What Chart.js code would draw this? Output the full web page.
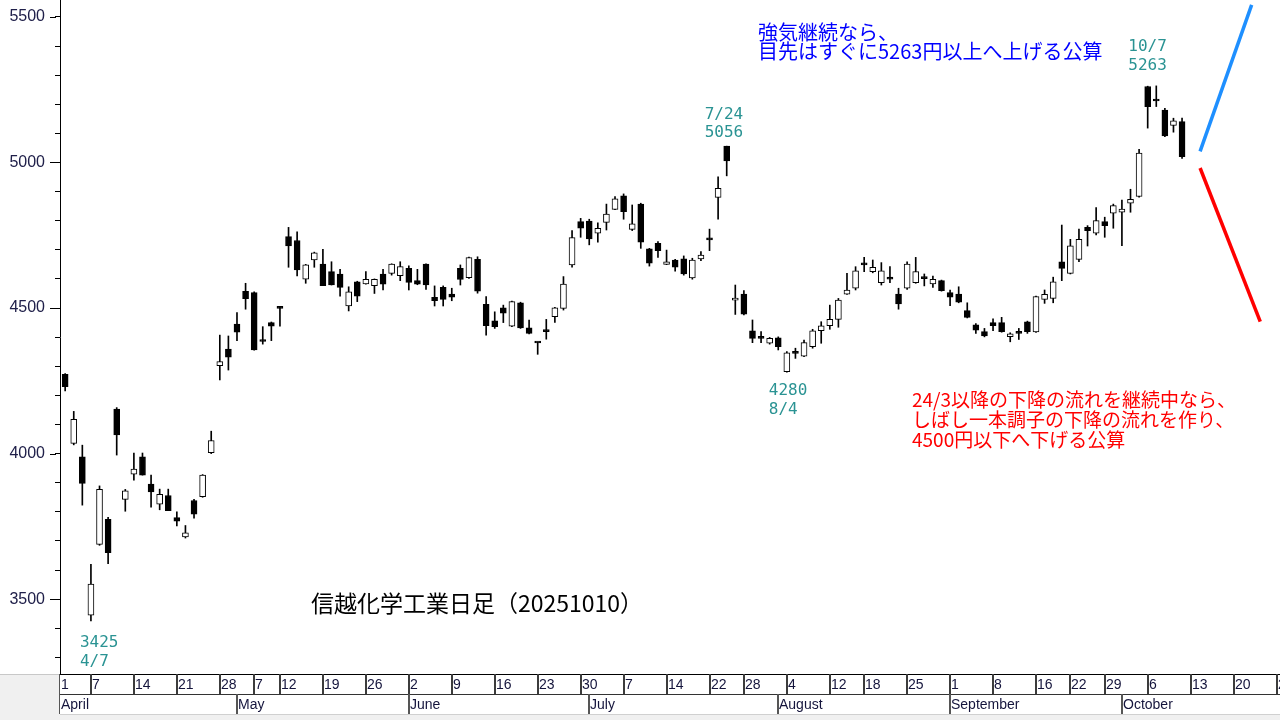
<!DOCTYPE html>
<html>
<head>
<meta charset="utf-8">
<script src="https://cdn.jsdelivr.net/npm/chart.js@4.4.1/dist/chart.umd.min.js"></script>
<style>
html, body { margin: 0; padding: 0; background: #fff; }
canvas { display: block; }
</style>
</head>
<body>
<canvas id="chart" width="1280" height="720"></canvas>
<script>
// trading day index: 0 = 4/1 (under the axis), 131 = 10/10, later ones are future weekdays
const firstIdx = 1

const open = [4272,4035,3989,3445,3688,3774,4153,3843,3929,3989,3895,3826,3856,3780,3714,3839,3852,4003,
  4302,4359,4445,4557,4553,4391,4450,4502,
  4745,4732,4599,4665,4651,4625,4617,4507,4590,4583,
  4577,4617,4619,4611,4636,4594,4651,4537,4571,4548,
  4636,4604,4667,4513,4456,4501,4438,4518,4432,4383,
  4419,4470,4499,4648,4797,4799,4757,4794,4839,4885,
  4770,4857,4703,4722,4650,4665,4669,4603,4669,4734,4880,5056,
  4527,4548,4422,4396,4379,4398,4281,4344,4335,4367,4422,4439,
  4461,4548,4568,4648,4625,4587,4606,4548,4568,4587,
  4601,4583,4594,4553,4548,4491,4442,4419,4450,4450,
  4402,4413,4453,4418,4530,4533,4659,4619,4667,4777,
  4757,4797,4826,4829,4860,4883,5261,5211,5180,5127,5140]
const high = [4275,4145,4029,3620,3889,3781,4158,3877,4002,4002,3926,3878,3878,3800,3753,3843,3928,4077,
  4407,4404,4484,4585,4556,4436,4452,4503,
  4777,4762,4650,4692,4702,4659,4633,4573,4592,4625,
  4600,4633,4652,4659,4645,4633,4652,4576,4576,4568,
  4648,4675,4676,4539,4487,4510,4524,4520,4459,4383,
  4461,4502,4608,4766,4808,4805,4793,4857,4883,4892,
  4854,4860,4705,4728,4699,4667,4679,4671,4694,4771,4951,5056,
  4579,4560,4459,4419,4399,4401,4350,4362,4390,4427,4453,4510,
  4533,4619,4642,4674,4665,4656,4642,4568,4659,4674,
  4617,4610,4596,4562,4573,4518,4447,4430,4463,4468,
  4415,4430,4455,4541,4562,4606,4785,4736,4771,4783,
  4845,4812,4857,4871,4908,5045,5262,5263,5186,5152,5152]
const low = [4215,4030,3823,3425,3685,3622,3995,3802,3909,3926,3816,3807,3804,3752,3710,3778,3850,4000,
  4253,4287,4388,4496,4355,4376,4388,4438,
  4640,4610,4585,4640,4577,4579,4541,4490,4522,4582,
  4550,4562,4613,4594,4562,4580,4564,4507,4507,4525,
  4579,4602,4551,4407,4430,4450,4436,4430,4411,4341,
  4393,4451,4493,4640,4743,4717,4726,4768,4838,4805,
  4766,4705,4644,4674,4649,4627,4613,4599,4663,4697,4805,4954,
  4478,4476,4381,4381,4376,4356,4280,4327,4333,4362,4379,4427,
  4434,4547,4562,4625,4621,4579,4587,4496,4564,4585,
  4576,4571,4558,4508,4518,4466,4413,4401,4422,4417,
  4384,4392,4413,4416,4516,4518,4594,4617,4659,4713,
  4751,4743,4774,4714,4829,4881,5118,5192,5089,5104,5014]
const close = [4230,4118,3898,3552,3877,3660,4064,3872,3947,3926,3868,3860,3804,3768,3728,3792,3926,4045,
  4316,4331,4417,4532,4356,4385,4438,4499,
  4713,4631,4648,4690,4577,4579,4571,4556,4541,4599,
  4599,4582,4651,4642,4588,4582,4579,4525,4530,4537,
  4598,4673,4558,4439,4436,4482,4522,4432,4413,4380,
  4419,4501,4582,4742,4774,4737,4774,4823,4875,4831,
  4789,4726,4654,4697,4659,4640,4617,4665,4682,4734,4911,5005,
  4530,4479,4396,4396,4396,4367,4346,4344,4381,4422,4439,4461,
  4527,4562,4628,4648,4640,4628,4599,4514,4651,4625,
  4601,4599,4560,4537,4520,4468,4424,4404,4439,4419,
  4411,4413,4419,4539,4547,4590,4636,4714,4736,4766,
  4800,4783,4852,4840,4873,5032,5192,5211,5091,5143,5020]

const weekTicks = [0,4,9,14,19,23,26,31,36,41,46,51,56,61,66,71,76,80,85,90,94,99,104,109,114,118,122,127,132,137,142]
const weekLabels = ['1','7','14','21','28','7','12','19','26','2','9','16','23','30','7','14','22','28','4','12','18','25','1','8','16','22','29','6','13','20','27']
const monthTicks = [0,21,41,62,84,104,124]
const monthLabels = ['April','May','June','July','August','September','October']

// projected paths drawn at the right edge
const bullPath = [[133.1,5038],[139.1,5541]]
const bearPath = [[133.1,4981],[140.1,4453]]

const callouts = [
  {idx: 4, value: 3425, lines: ['3425','4/7']},
  {idx: 78, value: 5056, lines: ['7/24','5056']},
  {idx: 85, value: 4280, lines: ['4280','8/4']},
  {idx: 128, value: 5263, lines: ['10/7','5263']}
]
const title = '信越化学工業日足（20251010）'
const bullText = ['強気継続なら、','目先はすぐに5263円以上へ上げる公算']
const bearText = ['24/3以降の下降の流れを継続中なら、','しばし一本調子の下降の流れを作り、','4500円以下へ下げる公算']

let bodies = []
let wicks = []
let bodyColors = []
for (let i = 0; i < open.length; i++) {
  bodies.push({x: firstIdx + i, y: [open[i], close[i]]})
  wicks.push({x: firstIdx + i, y: [low[i], high[i]]})
  bodyColors.push(close[i] > open[i] ? '#ffffff' : '#000000')
}

const calloutOffsets = [[-11, 21.5, 40.5], [-22, -31, -13], [-18, 18.6, 37.6], [-28, -39, -20]]

const drawExtras = {
  id: 'drawExtras',
  afterDraw(chart) {
    const ctx = chart.ctx
    const xs = chart.scales.x
    const ys = chart.scales.y
    const a = chart.chartArea
    const W = chart.width
    const b = a.bottom
    ctx.save()

    // date band under the plot
    ctx.fillStyle = '#f0f0f0'
    ctx.fillRect(0, b, a.left, 46)
    ctx.fillRect(0, b + 40, W, 6)
    ctx.fillStyle = '#ffffff'
    ctx.fillRect(a.left, b + 1, W - a.left, 39)

    function hline(x1, x2, y, c) {
      ctx.strokeStyle = c; ctx.lineWidth = 1
      ctx.beginPath(); ctx.moveTo(x1, y); ctx.lineTo(x2, y); ctx.stroke()
    }
    function vline(x, y1, y2, c, w) {
      ctx.strokeStyle = c; ctx.lineWidth = w
      ctx.beginPath(); ctx.moveTo(x, y1); ctx.lineTo(x, y2); ctx.stroke()
    }
    hline(0, a.left, b + 0.5, '#c8c8c8')
    hline(a.left, W, b + 0.5, '#000')
    hline(a.left, W, b + 20.5, '#333')
    hline(a.left, W, b + 40.5, '#d0d0d0')
    vline(a.left - 0.5, b, b + 40, '#555', 1)

    ctx.font = '14px "Liberation Sans", Arial, sans-serif'
    ctx.fillStyle = '#14143c'
    ctx.textBaseline = 'middle'
    ctx.textAlign = 'left'
    for (let i = 0; i < weekTicks.length; i++) {
      let x = Math.max(Math.round(xs.getPixelForValue(weekTicks[i])), a.left)
      if (x > a.left) vline(x, b, b + 20, '#3c3c3c', 2)
      ctx.fillText(weekLabels[i], x + 1, b + 11)
    }
    for (let i = 0; i < monthTicks.length; i++) {
      let x = Math.max(Math.round(xs.getPixelForValue(monthTicks[i])), a.left)
      if (x > a.left) vline(x, b + 20, b + 40, '#555', 2)
      ctx.fillText(monthLabels[i], x + 1, b + 31)
    }

    // longer ticks at every 500
    for (let v = 3500; v <= 5500; v += 500) {
      let y = Math.round(ys.getPixelForValue(v)) + 0.5
      hline(a.left - 10, a.left - 4, y, '#000')
    }

    // highs and lows
    ctx.font = '16px "DejaVu Sans Mono", monospace'
    ctx.fillStyle = '#2a9393'
    callouts.forEach((c, k) => {
      const o = calloutOffsets[k]
      const x = xs.getPixelForValue(c.idx) + o[0]
      const y = ys.getPixelForValue(c.value)
      ctx.fillText(c.lines[0], x, y + o[1])
      ctx.fillText(c.lines[1], x, y + o[2])
    })

    ctx.font = '20px "Noto Sans CJK JP", sans-serif'
    ctx.fillStyle = '#0000ff'
    bullText.forEach((t, k) => ctx.fillText(t, 758, 32 + k * 19))

    ctx.font = '19px "Noto Sans CJK JP", sans-serif'
    ctx.fillStyle = '#ff0000'
    bearText.forEach((t, k) => ctx.fillText(t, 912, 400 + k * 20))

    ctx.font = '23px "Noto Sans CJK JP", sans-serif'
    ctx.fillStyle = '#000'
    ctx.fillText(title, 311, 603)
    ctx.restore()
  }
}

const chart = new Chart(document.getElementById('chart'), {
  type: 'bar',
  data: {
    datasets: [
      {
        data: bodies,
        backgroundColor: bodyColors,
        borderColor: '#000',
        borderWidth: 1,
        borderSkipped: false,
        barThickness: 6,
        minBarLength: 2,
        grouped: false,
        order: 1
      },
      {
        data: wicks,
        backgroundColor: '#000',
        barThickness: 1,
        grouped: false,
        order: 2
      },
      {
        type: 'line',
        data: bullPath.map(p => ({x: p[0], y: p[1]})),
        borderColor: '#1e8fff',
        borderWidth: 3.5,
        pointRadius: 0,
        order: 0
      },
      {
        type: 'line',
        data: bearPath.map(p => ({x: p[0], y: p[1]})),
        borderColor: '#ff0000',
        borderWidth: 3.5,
        pointRadius: 0,
        order: 0
      }
    ]
  },
  options: {
    responsive: false,
    animation: false,
    devicePixelRatio: 1,
    layout: { padding: { top: 0, right: 0, bottom: 46, left: 0 } },
    plugins: { legend: { display: false }, tooltip: { enabled: false } },
    scales: {
      x: {
        type: 'linear',
        min: 0.4,
        max: 142.4,
        offset: false,
        display: false
      },
      y: {
        type: 'linear',
        position: 'left',
        min: 3243,
        max: 5558,
        beginAtZero: false,
        afterFit: (s) => { s.width = 60; s.paddingTop = 0; s.paddingBottom = 0 },
        border: { display: true, color: '#000', width: 1 },
        grid: { drawOnChartArea: false, color: '#000', tickLength: 5 },
        ticks: {
          stepSize: 100,
          includeBounds: false,
          autoSkip: false,
          padding: 10,
          color: '#20204a',
          font: { family: '"Liberation Sans", Arial, sans-serif', size: 16 },
          callback: (v) => (v % 500 === 0 ? String(v) : '')
        }
      }
    }
  },
  plugins: [drawExtras]
})
</script>
</body>
</html>
